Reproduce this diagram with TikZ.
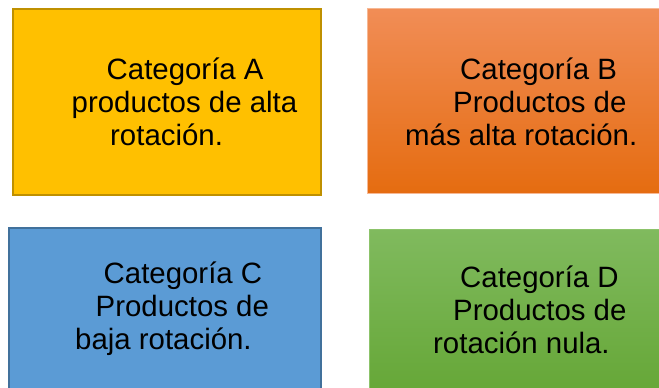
\documentclass[tikz,border=0pt]{standalone}
\usepackage{fontspec}
\setmainfont{Liberation Sans}
\usepackage{xcolor}
\definecolor{gold}{HTML}{FFC000}
\definecolor{goldline}{HTML}{BF9000}
\definecolor{orangetop}{HTML}{F18D56}
\definecolor{orangebot}{HTML}{E56C10}
\definecolor{orangeline}{HTML}{F6B894}
\definecolor{sky}{HTML}{5B9BD5}
\definecolor{skyline}{HTML}{41719C}
\definecolor{greentop}{HTML}{80BA5E}
\definecolor{greenbot}{HTML}{63A533}
\definecolor{greenline}{HTML}{8CC36A}
\tikzset{
  cat/.style={anchor=north west, inner sep=0pt, line width=1.6pt},
  lab/.style={anchor=base west, inner sep=0pt, text=black,
    font=\fontsize{29.4}{33}\selectfont},
}

\begin{document}
\begin{tikzpicture}[x=1pt,y=-1pt]
  \useasboundingbox (0,0) rectangle (659,388);
  \clip (0,0) rectangle (659,388);
  \fill[white] (0,0) rectangle (659,388);

  % the four category boxes
  \node[cat, draw=goldline, fill=gold,
    minimum width=308pt, minimum height=186pt] (catA) at (12,8) {};
  \node[cat, draw=orangeline, line width=0.8pt, top color=orangetop, bottom color=orangebot,
    minimum width=300pt, minimum height=185pt] (catB) at (367,8) {};
  \node[cat, draw=skyline, fill=sky,
    minimum width=312pt, minimum height=180pt] (catC) at (8,227) {};
  \node[cat, draw=greenline, line width=0.8pt, top color=greentop, bottom color=greenbot,
    minimum width=300pt, minimum height=180pt] (catD) at (369,229) {};

  % texts
  \node[lab] (a1) at (106.5,79.5) {Categoría A};
  \node[lab] (a2) at (71.5,112.5) {productos de alta};
  \node[lab] (a3) at (110,145.5) {rotación.};

  \node[lab] (b1) at (460,79.5) {Categoría B};
  \node[lab] (b2) at (453,112.5) {Productos de};
  \node[lab] (b3) at (405,145.5) {más alta rotación.};

  \node[lab] (c1) at (103.5,283.5) {Categoría C};
  \node[lab] (c2) at (95.5,316.5) {Productos de};
  \node[lab] (c3) at (75,349.5) {baja rotación.};

  \node[lab] (d1) at (460,287.5) {Categoría D};
  \node[lab] (d2) at (453,320.5) {Productos de};
  \node[lab] (d3) at (433,353.5) {rotación nula.};
\end{tikzpicture}
\end{document}
